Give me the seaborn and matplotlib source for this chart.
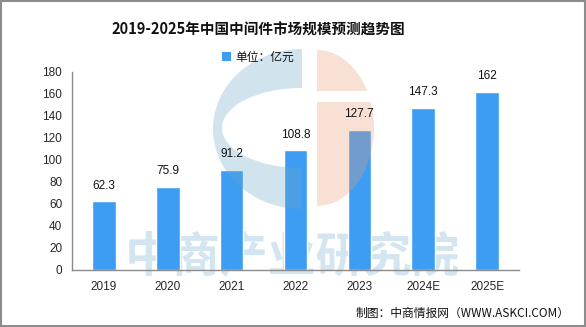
import numpy as np
import pandas as pd
import seaborn as sns
import matplotlib
matplotlib.use("Agg")
import matplotlib.pyplot as plt
from matplotlib.patches import Polygon, Rectangle
from matplotlib.transforms import Affine2D

# Market size data (unit: 100 million yuan)
years = ["2019", "2020", "2021", "2022", "2023", "2024E", "2025E"]
values = [62.3, 75.9, 91.2, 108.8, 127.7, 147.3, 162]
value_labels = ["62.3", "75.9", "91.2", "108.8", "127.7", "147.3", "162"]
y_ticks = [0, 20, 40, 60, 80, 100, 120, 140, 160, 180]

title_text = "2019-2025年中国中间件市场规模预测趋势图"
legend_text = "单位：亿元"
source_text = "制图：中商情报网（WWW.ASKCI.COM）"
watermark_text = "中商产业研究院"

BAR_COLOR = "#3d9df3"
AXIS_COLOR = "#8a8a8a"
CJK = ["Noto Sans CJK SC", "DejaVu Sans"]

sns.set_style("white")
plt.rcParams["font.family"] = CJK

W, H = 586, 327
fig = plt.figure(figsize=(W / 100, H / 100), dpi=100)
ax = fig.add_axes([72 / W, 1 - 270 / H, 447 / W, 198 / H])

df = pd.DataFrame({"year": years, "value": values})
sns.barplot(data=df, x="year", y="value", color=BAR_COLOR, saturation=1,
            width=0.37, ax=ax, zorder=2)

ax.set_xlim(-0.5, len(years) - 0.5)
ax.set_ylim(0, 180)
ax.set_yticks(y_ticks)
ax.set_yticklabels([str(t) for t in y_ticks], family="Liberation Sans", fontsize=8.5)
ax.set_xlabel("")
ax.set_ylabel("")

# category labels centred, tick marks on the category boundaries
ax.set_xticks(np.arange(len(years)))
ax.set_xticklabels(years, family="Liberation Sans", fontsize=8.5)
ax.tick_params(axis="x", length=0, pad=8)
ax.set_xticks(np.arange(len(years) + 1) - 0.5, minor=True)
ax.tick_params(axis="x", which="minor", length=5, color=AXIS_COLOR, direction="out")
ax.tick_params(axis="y", length=4, color=AXIS_COLOR, direction="out", pad=3)

for side in ["top", "right"]:
    ax.spines[side].set_visible(False)
for side in ["left", "bottom"]:
    ax.spines[side].set_color(AXIS_COLOR)
    ax.spines[side].set_linewidth(1)
ax.patch.set_alpha(0)

# value labels above each bar
for i, (v, lab) in enumerate(zip(values, value_labels)):
    ax.annotate(lab, xy=(i, v), xytext=(0, 7), textcoords="offset points",
                ha="center", va="bottom", fontsize=8.5, family="Liberation Sans",
                color="#111111", zorder=6)

# pixel coordinate transform (origin top-left) for the background mark
px = Affine2D().scale(1 / W, -1 / H).translate(0, 1) + fig.transFigure

# logo: "C" ring on the left and split half-disc on the right
t = np.linspace(np.pi / 2, 3 * np.pi / 2, 120)
outer = np.column_stack([302 + 89 * np.cos(t), 129 - 80 * np.sin(t)])
inner = np.column_stack([302 + 80 * np.cos(t[::-1]), 128 - 40 * np.sin(t[::-1])])
ring = np.vstack([outer, inner])
ax.add_patch(Polygon(ring, closed=True, transform=px, clip_on=False,
                     facecolor=(105 / 255, 165 / 255, 198 / 255), alpha=0.3,
                     edgecolor="none", zorder=4))


def half_disc_piece(y0, y1, cx=317, cy=128, a=57, b=78):
    ys = np.linspace(y0, y1, 80)
    xs = cx + a * np.sqrt(np.clip(1 - ((ys - cy) / b) ** 2, 0, 1))
    return np.vstack([[cx, y0], np.column_stack([xs, ys]), [cx, y1]])


for y0, y1 in [(50, 91), (102, 206)]:
    ax.add_patch(Polygon(half_disc_piece(y0, y1), closed=True, transform=px,
                         clip_on=False,
                         facecolor=(238 / 255, 155 / 255, 118 / 255), alpha=0.3,
                         edgecolor="none", zorder=4))

# faint organisation name behind the bars
ax.text(292, 258, watermark_text, transform=px, ha="center", va="center",
        fontsize=34.5, fontweight="bold", color="#d3e5f0", family=CJK,
        zorder=1, clip_on=False)

# title
fig.text(258 / W, 1 - 30 / H, title_text, ha="center", va="center",
         fontsize=10.5, fontweight="bold", color="#111111", family=CJK)

# legend entry
fig.patches.append(Rectangle((222, 52), 9, 9, transform=px,
                             facecolor=BAR_COLOR, edgecolor="none"))
fig.text(235 / W, 1 - 57 / H, legend_text, ha="left", va="center",
         fontsize=8.5, color="#111111", family=CJK)

# source line
fig.text(570 / W, 1 - 313 / H, source_text, ha="right", va="center",
         fontsize=8.5, color="#111111", family=CJK)

# outer frame
fig.patches.append(Rectangle((0.5, 0.5), W - 1.5, H - 1.5, transform=px,
                             fill=False, edgecolor="#8c8c8c", linewidth=1.5))

fig.savefig("out.png", dpi=100)
